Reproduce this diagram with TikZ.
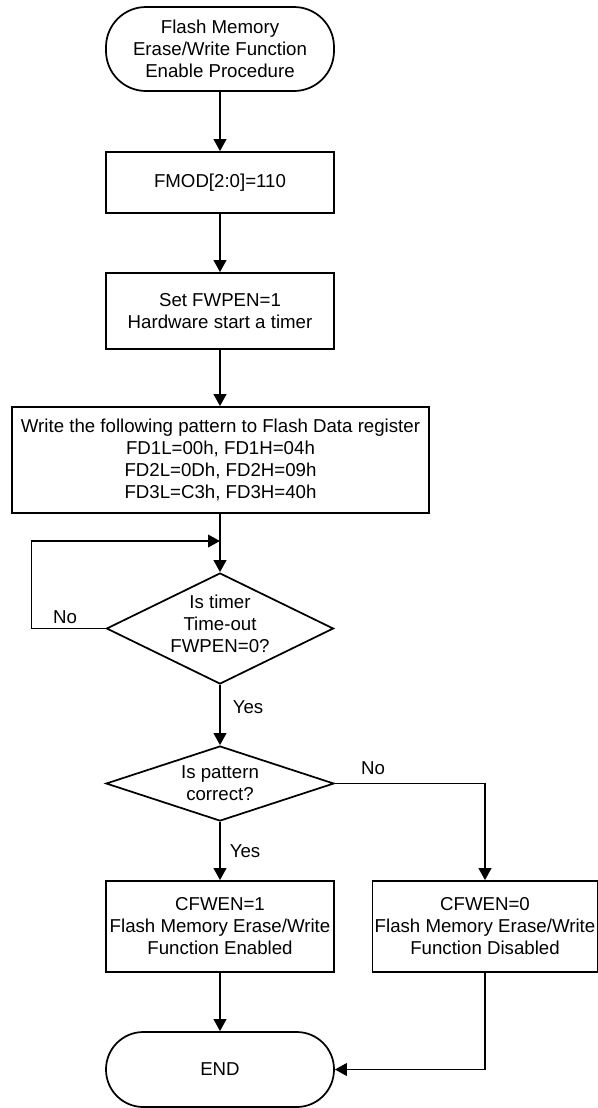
\documentclass[tikz,border=0pt]{standalone}
\usepackage{fontspec}
\setmainfont{Liberation Sans}
\usetikzlibrary{shapes.geometric,arrows.meta}
\begin{document}
\begin{tikzpicture}[x=0.75pt,y=-0.75pt,
  every node/.style={font=\fontsize{14}{16.5}\selectfont,align=center},
  lw/.style={line width=1.3pt},
  box/.style={lw,draw,rectangle,inner sep=0pt},
  term/.style={box,rounded corners=30pt},
  dia/.style={lw,draw,diamond,inner sep=0pt},
  arr/.style={lw,-{Triangle[length=9pt,width=9.5pt]}},
  lbl/.style={inner sep=0pt}]
\fill[white] (0,0) rectangle (597,1108);
\useasboundingbox (0,0) rectangle (597,1108);

\node[term,minimum width=171pt,minimum height=63pt] (start) at (220,49)
  {Flash Memory\\Erase/Write Function\\Enable Procedure};
\node[box,minimum width=171pt,minimum height=45.75pt] (fmod) at (220,182.5)
  {FMOD[2:0]=110};
\node[box,minimum width=171pt,minimum height=57pt] (fwpen) at (220,311)
  {Set FWPEN=1\\Hardware start a timer};
\node[box,minimum width=312.5pt,minimum height=79.5pt] (pat) at (220.5,460)
  {Write the following pattern to Flash Data register\\FD1L=00h, FD1H=04h\\FD2L=0Dh, FD2H=09h\\FD3L=C3h, FD3H=40h};
\node[dia,minimum width=170.25pt,minimum height=83.25pt] (d1) at (220,628.5) {};
\node[lbl] (d1t) at (220,624) {Is timer\\Time-out\\FWPEN=0?};
\node[dia,minimum width=171pt,minimum height=56.25pt] (d2) at (220,783.5) {};
\node[lbl] (d2t) at (220,783) {Is pattern\\correct?};
\node[box,minimum width=171pt,minimum height=68.25pt] (ok) at (220,926.5)
  {CFWEN=1\\Flash Memory Erase/Write\\Function Enabled};
\node[box,minimum width=168.75pt,minimum height=68.25pt] (fail) at (485,926.5)
  {CFWEN=0\\Flash Memory Erase/Write\\Function Disabled};
\node[term,minimum width=171pt,minimum height=56.25pt,rounded corners=28pt] (end) at (220,1069.5)
  {END};

\coordinate (loopL) at (31.5,628.5);
\coordinate (loopJ) at (220,541);

\draw[arr] (start.south) -- (fmod.north);
\draw[arr] (fmod.south) -- (fwpen.north);
\draw[arr] (fwpen.south) -- (fwpen.south |- pat.north);
\draw[arr] (d1.north |- pat.south) -- (d1.north);
\draw[arr] (d1.west) -- (loopL) |- (loopJ);
\draw[arr] (d1.south) -- (d2.north);
\draw[arr] (d2.south) -- (ok.north);
\draw[arr] (d2.east) -| (fail.north);
\draw[arr] (ok.south) -- (end.north);
\draw[arr] (fail.south) |- (end.east);

\node[lbl] (no1) at (65,617) {No};
\node[lbl] (yes1) at (248,707) {Yes};
\node[lbl] (no2) at (373,768) {No};
\node[lbl] (yes2) at (245,851) {Yes};
\end{tikzpicture}
\end{document}
